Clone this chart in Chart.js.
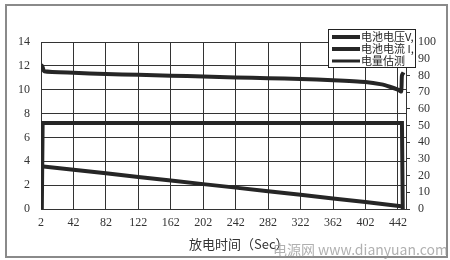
<!DOCTYPE html>
<html><head><meta charset="utf-8">
<script src="https://cdn.jsdelivr.net/npm/chart.js@4/dist/chart.umd.min.js"></script>
<style>html,body{margin:0;padding:0;background:#fff;}#wrap{width:450px;height:260px;position:relative;}</style>
</head><body><div id="wrap"><canvas id="c" width="450" height="260"></canvas></div>
<script>
// ---- data ----
const xTickLabels = [2,42,82,122,162,202,242,282,322,362,402,442];
const leftTicks = [0,2,4,6,8,10,12,14];
const rightTicks = [0,10,20,30,40,50,60,70,80,90,100];
const seriesNames = ['电池电压V,', '电池电流 I,', '电量估测'];
const voltTime = [2,4,6,42,82,122,162,202,242,282,322,362,402,422,432,442,446,447,449];
const voltage  = [12.1,11.9,11.55,11.42,11.32,11.25,11.18,11.1,11.03,10.96,10.9,10.8,10.65,10.45,10.25,10.0,9.85,11.2,11.45];
const currTime = [3,4,447,448];
const current  = [0,7.2,7.2,0];
const capTime  = [2,42,82,122,162,202,242,282,322,362,402,446];
const capacity = [25.6,23.5,21.4,19.2,17.1,14.9,12.8,10.6,8.5,6.3,4.2,1.7];
const xTitle = '放电时间（Sec）';
const watermark = '电源网 www.dianyuan.com';

const pts = (xs, ys) => xs.map((x, i) => ({x, y: ys[i]}));
const ink = '#262626';
const serif = "'Liberation Serif','DejaVu Serif',serif";

const frame = {
  id: 'frame',
  beforeDraw(chart) {
    const ctx = chart.ctx;
    ctx.save();
    ctx.fillStyle = '#fff';
    ctx.fillRect(0, 0, 450, 260);
    ctx.restore();
  },
  afterDraw(chart) {
    const ctx = chart.ctx;
    ctx.save();
    // outer frame
    ctx.strokeStyle = '#8a8a8a';
    ctx.lineWidth = 2;
    ctx.strokeRect(6, 5, 441, 252);
    // x-axis title
    ctx.fillStyle = '#333';
    ctx.font = "13px 'Noto Sans CJK SC', sans-serif";
    ctx.textBaseline = 'middle';
    ctx.textAlign = 'left';
    ctx.fillText(xTitle, 189, 244);
    // legend box
    const bx = 328, by = 29, bw = 87, bh = 38;
    ctx.fillStyle = '#fff';
    ctx.fillRect(bx, by, bw, bh);
    ctx.strokeStyle = '#222';
    ctx.lineWidth = 1;
    ctx.strokeRect(bx + 0.5, by + 0.5, bw, bh);
    ctx.beginPath(); ctx.rect(bx, by, bw, bh); ctx.clip();
    chart.data.datasets.forEach((ds, i) => {
      const y = 37 + i * 12;
      ctx.strokeStyle = ink;
      ctx.lineWidth = i === 2 ? 3 : 4;
      ctx.beginPath(); ctx.moveTo(332, y); ctx.lineTo(360, y); ctx.stroke();
      ctx.fillStyle = '#222';
      ctx.font = "11px 'Noto Sans CJK SC', sans-serif";
      ctx.textBaseline = 'middle';
      ctx.textAlign = 'left';
      ctx.fillText(ds.label, 361, y);
    });
    ctx.restore();
    // watermark
    ctx.save();
    ctx.fillStyle = 'rgba(150,150,150,0.75)';
    ctx.font = "14px 'Noto Sans CJK SC', 'DejaVu Sans', sans-serif";
    ctx.textBaseline = 'middle';
    ctx.textAlign = 'right';
    ctx.fillText(watermark, 448, 250);
    ctx.restore();
  }
};

new Chart(document.getElementById('c'), {
  type: 'line',
  data: {
    datasets: [
      {label: seriesNames[0], data: pts(voltTime, voltage), yAxisID: 'y', borderColor: ink, borderWidth: 4, pointRadius: 0, tension: 0.2},
      {label: seriesNames[1], data: pts(currTime, current), yAxisID: 'y', borderColor: ink, borderWidth: 4, pointRadius: 0, tension: 0},
      {label: seriesNames[2], data: pts(capTime, capacity), yAxisID: 'y1', borderColor: ink, borderWidth: 4, pointRadius: 0, tension: 0}
    ]
  },
  options: {
    responsive: false,
    animation: false,
    layout: {padding: {top: 42, left: 0, right: 0, bottom: 0}},
    plugins: {legend: {display: false}, tooltip: {enabled: false}},
    scales: {
      x: {
        type: 'linear', min: 2, max: 452,
        afterBuildTicks: s => { s.ticks = xTickLabels.map(v => ({value: v})); },
        afterFit: s => { s.height = 51; },
        grid: {color: '#333', lineWidth: 1, drawTicks: false},
        border: {color: '#333', width: 1},
        ticks: {color: '#333', padding: 7, font: {family: serif, size: 12}, maxRotation: 0, autoSkip: false}
      },
      y: {
        position: 'left', min: 0, max: 14,
        afterBuildTicks: s => { s.ticks = leftTicks.map(v => ({value: v})); },
        afterFit: s => { s.width = 41; },
        grid: {color: '#333', lineWidth: 1, drawTicks: false},
        border: {color: '#333', width: 1},
        ticks: {color: '#333', padding: 11, font: {family: serif, size: 12}, autoSkip: false}
      },
      y1: {
        position: 'right', min: 0, max: 100,
        afterBuildTicks: s => { s.ticks = rightTicks.map(v => ({value: v})); },
        afterFit: s => { s.width = 44; },
        grid: {drawOnChartArea: false, color: '#333', tickLength: 4},
        border: {color: '#333', width: 1},
        ticks: {color: '#333', padding: 8, font: {family: serif, size: 12}, autoSkip: false}
      }
    }
  },
  plugins: [frame]
});
</script></body></html>
